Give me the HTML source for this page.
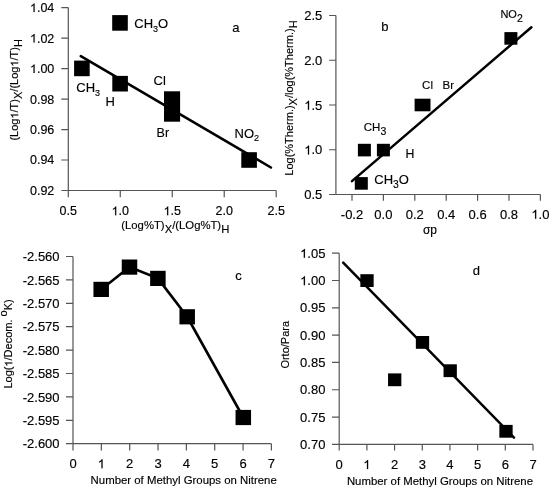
<!DOCTYPE html>
<html><head><meta charset="utf-8"><style>
html,body{margin:0;padding:0;background:#fff;}
svg{display:block;will-change:transform;}
text{font-family:"Liberation Sans", sans-serif;fill:#000;}
text{stroke:#000;stroke-width:0.15px;stroke-linejoin:round;}
.h{fill-opacity:0;stroke-opacity:0;}
</style></head><body>
<svg width="550" height="488" viewBox="0 0 550 488">
<defs><path id="g1" d="M763 0H583V1098Q518 1038 412.5 979T223 890V1057Q374 1124 487 1221T647 1409H763V0Z"/></defs>
<rect width="550" height="488" fill="#fff"/>
<path d="M68.30,7.60V190.50M68.30,190.50H276.20M61.30,7.60H68.30M61.30,38.08H68.30M61.30,68.57H68.30M61.30,99.05H68.30M61.30,129.53H68.30M61.30,160.02H68.30M61.30,190.50H68.30M68.30,190.50V197.30M120.27,190.50V197.30M172.25,190.50V197.30M224.22,190.50V197.30M276.20,190.50V197.30" fill="none" stroke="#555" stroke-width="1.2"/>
<text x="54.30" y="12.07" font-size="12.5" text-anchor="end" ><tspan class="h">1</tspan>.04</text>
<text x="54.30" y="42.56" font-size="12.5" text-anchor="end" ><tspan class="h">1</tspan>.02</text>
<text x="54.30" y="73.04" font-size="12.5" text-anchor="end" ><tspan class="h">1</tspan>.00</text>
<text x="54.30" y="103.52" font-size="12.5" text-anchor="end" >0.98</text>
<text x="54.30" y="134.01" font-size="12.5" text-anchor="end" >0.96</text>
<text x="54.30" y="164.49" font-size="12.5" text-anchor="end" >0.94</text>
<text x="54.30" y="194.97" font-size="12.5" text-anchor="end" >0.92</text>
<text x="68.30" y="215.20" font-size="12.5" text-anchor="middle" >0.5</text>
<text x="120.27" y="215.20" font-size="12.5" text-anchor="middle" ><tspan class="h">1</tspan>.0</text>
<text x="172.25" y="215.20" font-size="12.5" text-anchor="middle" ><tspan class="h">1</tspan>.5</text>
<text x="224.22" y="215.20" font-size="12.5" text-anchor="middle" >2.0</text>
<text x="276.20" y="215.20" font-size="12.5" text-anchor="middle" >2.5</text>
<text x="121.30" y="229.20" font-size="11.3" text-anchor="start" >(Log%T)<tspan font-size="11.3" dy="3.5">X</tspan><tspan dy="-3.5">/(LOg%T)</tspan><tspan font-size="11.3" dy="3.5">H</tspan></text>
<text transform="translate(18.2,140.6) rotate(-90)" font-size="11">(Log<tspan class="h">1</tspan>/T)<tspan font-size="11" dy="3.5">X</tspan><tspan dy="-3.5">/(Log<tspan class="h">1</tspan>/T)</tspan><tspan font-size="11" dy="3.5">H</tspan></text>
<line x1="80.80" y1="56.20" x2="270.90" y2="167.50" stroke="#000" stroke-width="2.6" stroke-linecap="round"/>
<rect x="74.10" y="60.60" width="15.60" height="15.60" fill="#000"/>
<rect x="112.20" y="15.10" width="15.60" height="15.60" fill="#000"/>
<rect x="112.30" y="75.90" width="15.60" height="15.60" fill="#000"/>
<rect x="241.30" y="152.20" width="15.60" height="15.60" fill="#000"/>
<rect x="164.00" y="91.30" width="16.10" height="30.40" fill="#000"/>
<text x="134.30" y="28.10" font-size="13" text-anchor="start" >CH<tspan font-size="9" dy="3.8">3</tspan><tspan dy="-3.8">O</tspan></text>
<text x="76.30" y="91.80" font-size="13" text-anchor="start" >CH<tspan font-size="9" dy="4.3">3</tspan></text>
<text x="105.40" y="106.40" font-size="13" text-anchor="start" >H</text>
<text x="153.50" y="84.80" font-size="13" text-anchor="start" >Cl</text>
<text x="156.60" y="136.80" font-size="12.5" text-anchor="start" >Br</text>
<text x="234.60" y="137.50" font-size="13" text-anchor="start" >NO<tspan font-size="9" dy="3.8">2</tspan></text>
<text x="232.20" y="31.80" font-size="13" text-anchor="start" >a</text>
<path d="M335.90,15.50V194.50M335.90,194.50H540.40M329.10,15.50H335.90M329.10,60.25H335.90M329.10,105.00H335.90M329.10,149.75H335.90M329.10,194.50H335.90M352.00,194.50V200.70M383.40,194.50V200.70M414.80,194.50V200.70M446.20,194.50V200.70M477.60,194.50V200.70M509.00,194.50V200.70M540.40,194.50V200.70" fill="none" stroke="#555" stroke-width="1.2"/>
<text x="322.30" y="20.15" font-size="13" text-anchor="end" >2.5</text>
<text x="322.30" y="64.90" font-size="13" text-anchor="end" >2.0</text>
<text x="322.30" y="109.65" font-size="13" text-anchor="end" ><tspan class="h">1</tspan>.5</text>
<text x="322.30" y="154.40" font-size="13" text-anchor="end" ><tspan class="h">1</tspan>.0</text>
<text x="322.30" y="199.15" font-size="13" text-anchor="end" >0.5</text>
<text x="352.00" y="218.80" font-size="13" text-anchor="middle" >-0.2</text>
<text x="383.40" y="218.80" font-size="13" text-anchor="middle" >0.0</text>
<text x="414.80" y="218.80" font-size="13" text-anchor="middle" >0.2</text>
<text x="446.20" y="218.80" font-size="13" text-anchor="middle" >0.4</text>
<text x="477.60" y="218.80" font-size="13" text-anchor="middle" >0.6</text>
<text x="509.00" y="218.80" font-size="13" text-anchor="middle" >0.8</text>
<text x="540.40" y="218.80" font-size="13" text-anchor="middle" ><tspan class="h">1</tspan>.0</text>
<text x="430.00" y="234.00" font-size="12" text-anchor="middle" >σp</text>
<text transform="translate(293,175.7) rotate(-90)" font-size="11">Log(%Therm.)<tspan font-size="11" dy="3.5">X</tspan><tspan dy="-3.5">/log(%Therm.)</tspan><tspan font-size="11" dy="3.5">H</tspan></text>
<line x1="352.00" y1="181.10" x2="531.40" y2="27.20" stroke="#000" stroke-width="2.5" stroke-linecap="round"/>
<rect x="357.90" y="143.80" width="13.00" height="12.60" fill="#000"/>
<rect x="376.90" y="143.80" width="13.00" height="12.60" fill="#000"/>
<rect x="354.80" y="177.10" width="13.00" height="12.60" fill="#000"/>
<rect x="504.40" y="32.10" width="13.00" height="12.60" fill="#000"/>
<rect x="414.60" y="98.70" width="15.90" height="12.60" fill="#000"/>
<text x="500.40" y="17.60" font-size="11" text-anchor="start" >NO<tspan font-size="10.5" dy="4.4">2</tspan></text>
<text x="422.10" y="88.50" font-size="11.5" text-anchor="start" >Cl</text>
<text x="442.50" y="88.50" font-size="11.5" text-anchor="start" >Br</text>
<text x="363.80" y="131.40" font-size="11.5" text-anchor="start" >CH<tspan font-size="10.5" dy="3.9">3</tspan></text>
<text x="405.60" y="158.20" font-size="12.3" text-anchor="start" >H</text>
<text x="374.30" y="184.00" font-size="13" text-anchor="start" >CH<tspan font-size="10.3" dy="3.6">3</tspan><tspan dy="-3.6">O</tspan></text>
<text x="381.30" y="31.40" font-size="13" text-anchor="start" >b</text>
<path d="M73.00,256.50V443.70M73.00,443.70H271.40M66.00,256.50H73.00M66.00,279.90H73.00M66.00,303.30H73.00M66.00,326.70H73.00M66.00,350.10H73.00M66.00,373.50H73.00M66.00,396.90H73.00M66.00,420.30H73.00M66.00,443.70H73.00M73.00,443.70V450.60M101.34,443.70V450.60M129.69,443.70V450.60M158.03,443.70V450.60M186.37,443.70V450.60M214.71,443.70V450.60M243.06,443.70V450.60M271.40,443.70V450.60" fill="none" stroke="#555" stroke-width="1.2"/>
<text x="59.60" y="261.15" font-size="13" text-anchor="end" >-2.560</text>
<text x="59.60" y="284.55" font-size="13" text-anchor="end" >-2.565</text>
<text x="59.60" y="307.95" font-size="13" text-anchor="end" >-2.570</text>
<text x="59.60" y="331.35" font-size="13" text-anchor="end" >-2.575</text>
<text x="59.60" y="354.75" font-size="13" text-anchor="end" >-2.580</text>
<text x="59.60" y="378.15" font-size="13" text-anchor="end" >-2.585</text>
<text x="59.60" y="401.55" font-size="13" text-anchor="end" >-2.590</text>
<text x="59.60" y="424.95" font-size="13" text-anchor="end" >-2.595</text>
<text x="59.60" y="448.35" font-size="13" text-anchor="end" >-2.600</text>
<text x="73.00" y="468.30" font-size="13" text-anchor="middle" >0</text>
<text x="101.34" y="468.30" font-size="13" text-anchor="middle" ><tspan class="h">1</tspan></text>
<text x="129.69" y="468.30" font-size="13" text-anchor="middle" >2</text>
<text x="158.03" y="468.30" font-size="13" text-anchor="middle" >3</text>
<text x="186.37" y="468.30" font-size="13" text-anchor="middle" >4</text>
<text x="214.71" y="468.30" font-size="13" text-anchor="middle" >5</text>
<text x="243.06" y="468.30" font-size="13" text-anchor="middle" >6</text>
<text x="271.40" y="468.30" font-size="13" text-anchor="middle" >7</text>
<text x="90.60" y="484.30" font-size="11.4" text-anchor="start" >Number of Methyl Groups on Nitrene</text>
<text transform="translate(12.3,388.6) rotate(-90)" font-size="11">Log(<tspan class="h">1</tspan>/Decom. <tspan dy="-5.4">o</tspan><tspan dy="5.4">K)</tspan></text>
<polyline points="101.2,289.4 129.5,267.1 157.9,278.4 187.2,316.8 243.3,417.5" fill="none" stroke="#000" stroke-width="2.6"/>
<rect x="93.45" y="281.80" width="15.50" height="15.20" fill="#000"/>
<rect x="121.75" y="259.50" width="15.50" height="15.20" fill="#000"/>
<rect x="150.15" y="270.80" width="15.50" height="15.20" fill="#000"/>
<rect x="179.45" y="309.20" width="15.50" height="15.20" fill="#000"/>
<rect x="235.55" y="409.90" width="15.50" height="15.20" fill="#000"/>
<text x="235.30" y="279.80" font-size="13" text-anchor="start" >c</text>
<path d="M339.20,253.20V444.40M339.20,444.40H533.00M332.00,253.20H339.20M332.00,280.51H339.20M332.00,307.83H339.20M332.00,335.14H339.20M332.00,362.46H339.20M332.00,389.77H339.20M332.00,417.09H339.20M332.00,444.40H339.20M339.20,444.40V450.60M366.89,444.40V450.60M394.57,444.40V450.60M422.26,444.40V450.60M449.94,444.40V450.60M477.63,444.40V450.60M505.31,444.40V450.60M533.00,444.40V450.60" fill="none" stroke="#555" stroke-width="1.2"/>
<text x="325.40" y="257.85" font-size="13" text-anchor="end" ><tspan class="h">1</tspan>.05</text>
<text x="325.40" y="285.17" font-size="13" text-anchor="end" ><tspan class="h">1</tspan>.00</text>
<text x="325.40" y="312.48" font-size="13" text-anchor="end" >0.95</text>
<text x="325.40" y="339.80" font-size="13" text-anchor="end" >0.90</text>
<text x="325.40" y="367.11" font-size="13" text-anchor="end" >0.85</text>
<text x="325.40" y="394.43" font-size="13" text-anchor="end" >0.80</text>
<text x="325.40" y="421.74" font-size="13" text-anchor="end" >0.75</text>
<text x="325.40" y="449.05" font-size="13" text-anchor="end" >0.70</text>
<text x="339.20" y="469.00" font-size="13" text-anchor="middle" >0</text>
<text x="366.89" y="469.00" font-size="13" text-anchor="middle" ><tspan class="h">1</tspan></text>
<text x="394.57" y="469.00" font-size="13" text-anchor="middle" >2</text>
<text x="422.26" y="469.00" font-size="13" text-anchor="middle" >3</text>
<text x="449.94" y="469.00" font-size="13" text-anchor="middle" >4</text>
<text x="477.63" y="469.00" font-size="13" text-anchor="middle" >5</text>
<text x="505.31" y="469.00" font-size="13" text-anchor="middle" >6</text>
<text x="533.00" y="469.00" font-size="13" text-anchor="middle" >7</text>
<text x="346.90" y="484.60" font-size="11.4" text-anchor="start" >Number of Methyl Groups on Nitrene</text>
<text transform="translate(288.9,368.6) rotate(-90)" font-size="11">Orto/Para</text>
<line x1="343.20" y1="262.60" x2="514.00" y2="437.60" stroke="#000" stroke-width="2.5" stroke-linecap="round"/>
<rect x="360.35" y="274.20" width="13.30" height="12.80" fill="#000"/>
<rect x="388.05" y="373.40" width="13.30" height="12.80" fill="#000"/>
<rect x="415.85" y="336.00" width="13.30" height="12.80" fill="#000"/>
<rect x="443.55" y="364.30" width="13.30" height="12.80" fill="#000"/>
<rect x="499.35" y="424.90" width="13.30" height="12.80" fill="#000"/>
<text x="472.70" y="274.80" font-size="13" text-anchor="start" >d</text>
<g fill="#000" stroke="#000" stroke-linejoin="round"><g><use href="#g1" transform="translate(29.96,12.07) scale(0.00610,-0.00610)" stroke-width="25"/></g><g><use href="#g1" transform="translate(29.96,42.56) scale(0.00610,-0.00610)" stroke-width="25"/></g><g><use href="#g1" transform="translate(29.96,73.04) scale(0.00610,-0.00610)" stroke-width="25"/></g><g><use href="#g1" transform="translate(111.57,215.20) scale(0.00610,-0.00610)" stroke-width="25"/></g><g><use href="#g1" transform="translate(163.55,215.20) scale(0.00610,-0.00610)" stroke-width="25"/></g><g transform="translate(18.2,140.6) rotate(-90)"><use href="#g1" transform="translate(22.02,0.00) scale(0.00537,-0.00537)" stroke-width="28"/><use href="#g1" transform="translate(73.98,0.00) scale(0.00537,-0.00537)" stroke-width="28"/></g><g><use href="#g1" transform="translate(304.22,109.65) scale(0.00635,-0.00635)" stroke-width="24"/></g><g><use href="#g1" transform="translate(304.22,154.40) scale(0.00635,-0.00635)" stroke-width="24"/></g><g><use href="#g1" transform="translate(531.36,218.80) scale(0.00635,-0.00635)" stroke-width="24"/></g><g><use href="#g1" transform="translate(97.72,468.30) scale(0.00635,-0.00635)" stroke-width="24"/></g><g transform="translate(12.3,388.6) rotate(-90)"><use href="#g1" transform="translate(22.02,0.00) scale(0.00537,-0.00537)" stroke-width="28"/></g><g><use href="#g1" transform="translate(300.09,257.85) scale(0.00635,-0.00635)" stroke-width="24"/></g><g><use href="#g1" transform="translate(300.09,285.17) scale(0.00635,-0.00635)" stroke-width="24"/></g><g><use href="#g1" transform="translate(363.27,469.00) scale(0.00635,-0.00635)" stroke-width="24"/></g></g>
</svg>
</body></html>
